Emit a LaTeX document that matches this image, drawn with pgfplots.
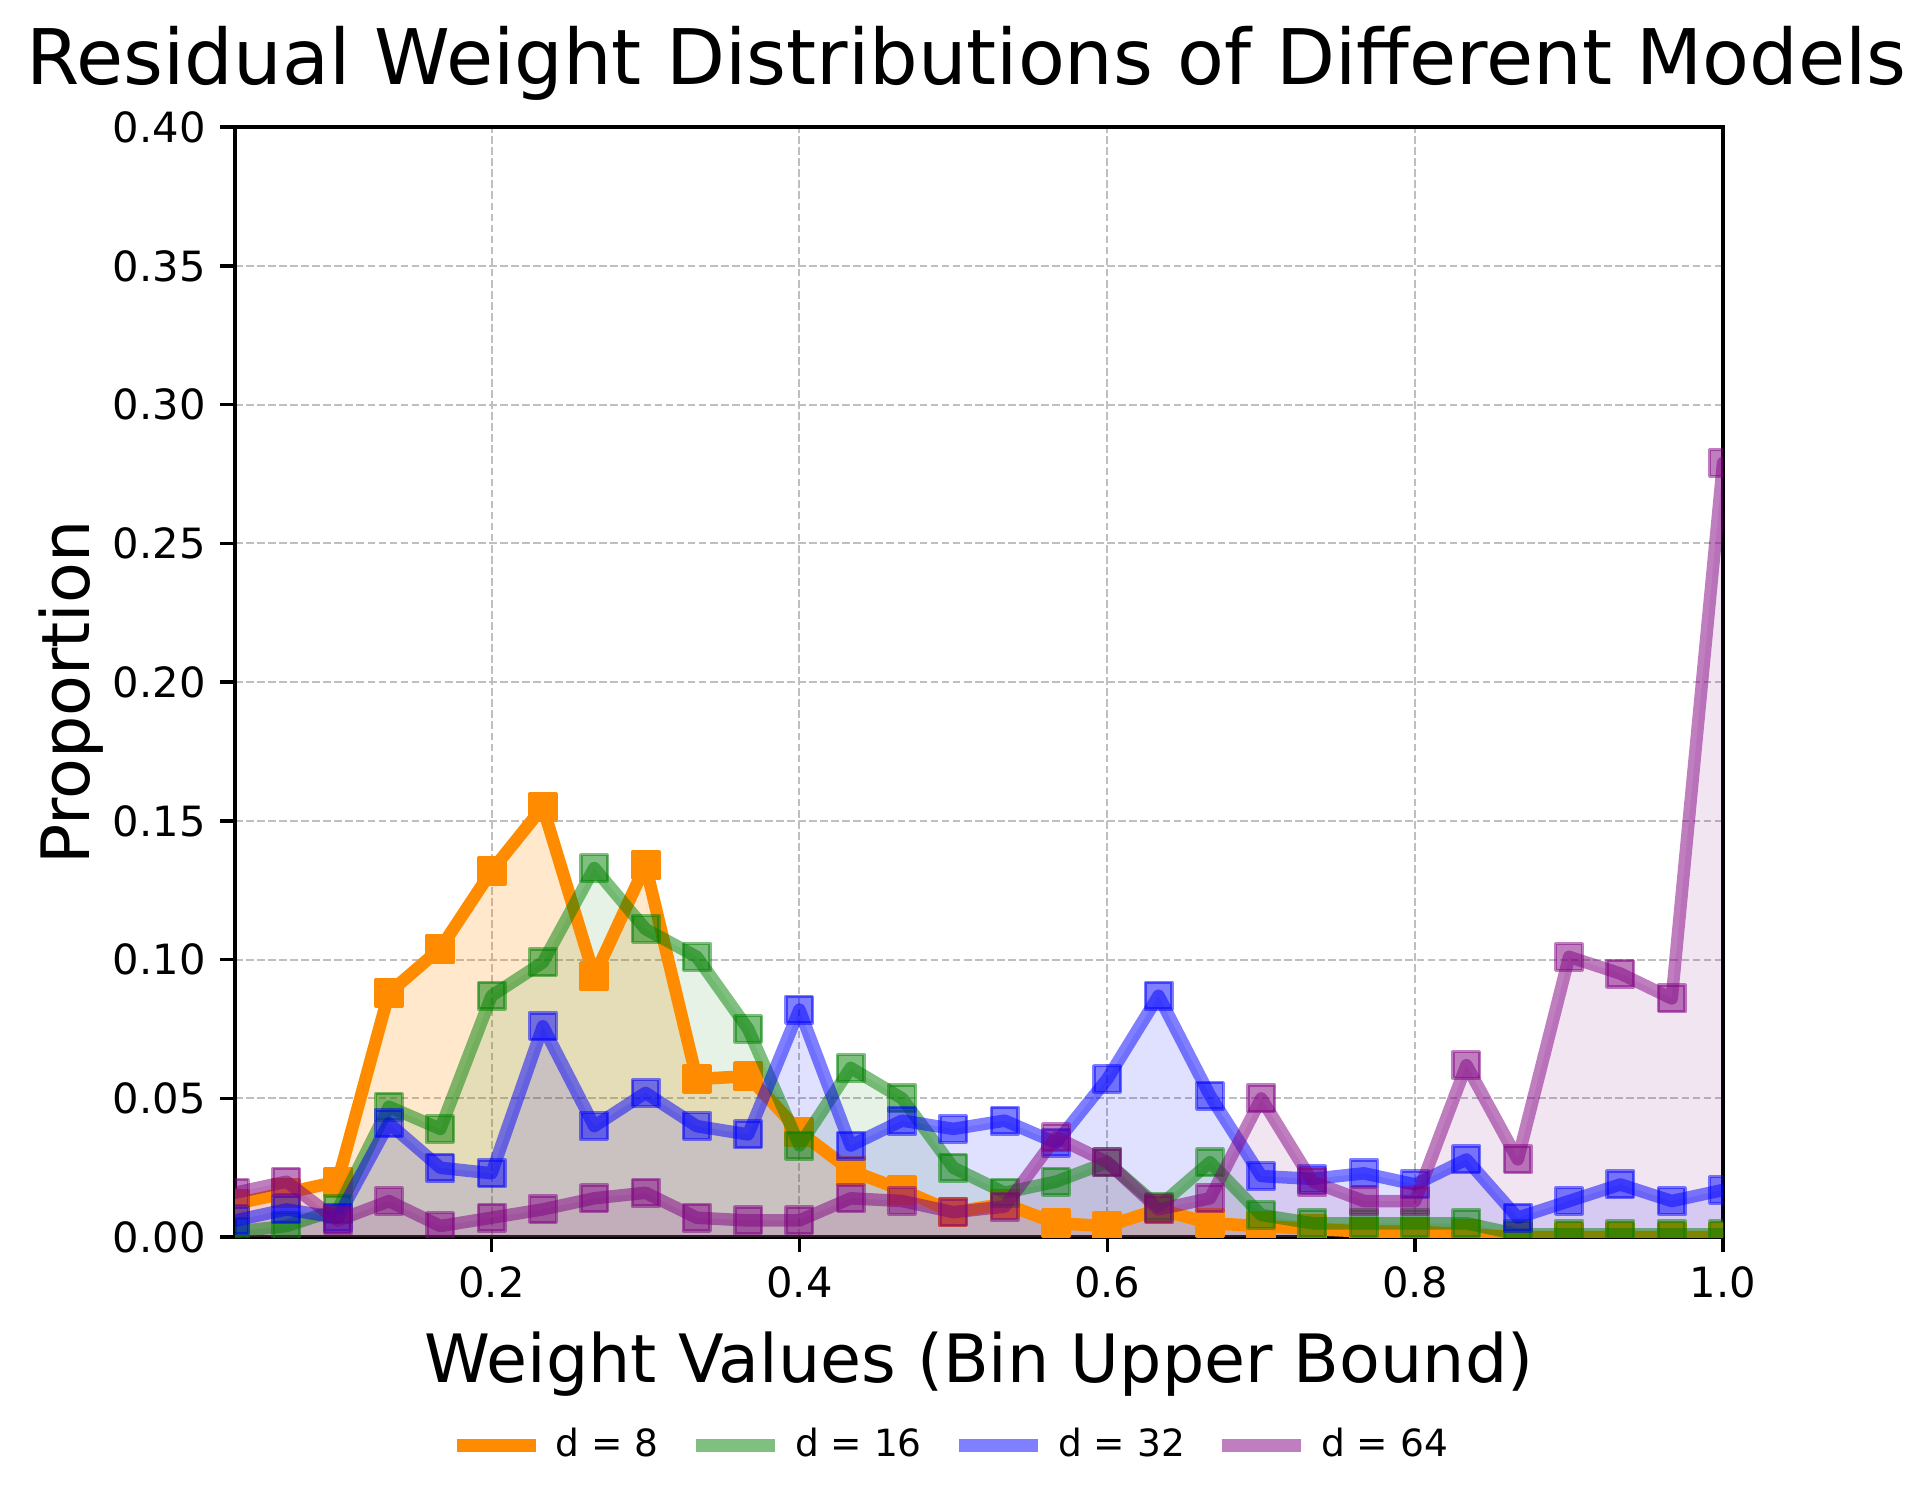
\documentclass[border=0pt]{standalone}
\usepackage{fontspec}
\setmainfont{DejaVu Sans}
\usepackage{pgfplots}
\usepackage{pgfplotstable}
\pgfplotsset{compat=1.18}

\definecolor{corange}{RGB}{255,140,0}
\definecolor{cgreen}{RGB}{0,128,0}
\definecolor{cblue}{RGB}{0,0,255}
\definecolor{cpurple}{RGB}{128,0,128}

% bin upper bound, proportion for d = 8, 16, 32, 64
\pgfplotstableread{
x      d8    d16   d32   d64
0.0333 0.012 0.002 0.006 0.016
0.0667 0.016 0.004 0.010 0.020
0.1000 0.020 0.010 0.007 0.006
0.1333 0.088 0.047 0.041 0.013
0.1667 0.104 0.039 0.025 0.004
0.2000 0.132 0.087 0.023 0.007
0.2333 0.155 0.099 0.076 0.010
0.2667 0.094 0.133 0.040 0.014
0.3000 0.134 0.111 0.052 0.016
0.3333 0.057 0.101 0.040 0.007
0.3667 0.058 0.075 0.037 0.006
0.4000 0.038 0.033 0.082 0.006
0.4333 0.024 0.061 0.033 0.014
0.4667 0.017 0.050 0.042 0.013
0.5000 0.009 0.025 0.039 0.009
0.5333 0.012 0.016 0.042 0.011
0.5667 0.005 0.020 0.034 0.036
0.6000 0.004 0.027 0.057 0.027
0.6333 0.010 0.011 0.087 0.010
0.6667 0.005 0.027 0.051 0.014
0.7000 0.004 0.008 0.022 0.050
0.7333 0.003 0.005 0.021 0.020
0.7667 0.002 0.005 0.023 0.013
0.8000 0.002 0.005 0.019 0.013
0.8333 0.001 0.005 0.028 0.062
0.8667 0.000 0.001 0.007 0.028
0.9000 0.000 0.001 0.013 0.101
0.9333 0.000 0.001 0.019 0.095
0.9667 0.000 0.001 0.013 0.086
1.0000 0.000 0.001 0.017 0.279
}\datatable

\begin{document}
\begin{tikzpicture}
\useasboundingbox (-56.4pt,-64.8pt) rectangle (406.3pt,296.9pt);
\begin{axis}[
  at={(0,0)}, anchor=south west,
  scale only axis,
  width=357.1pt, height=266.4pt,
  xmin=0.0333, xmax=1.0,
  ymin=0, ymax=0.4,
  xtick={0.2,0.4,0.6,0.8,1.0},
  ytick={0,0.05,...,0.4},
  xticklabel style={/pgf/number format/.cd, fixed, fixed zerofill, precision=1},
  yticklabel style={/pgf/number format/.cd, fixed, fixed zerofill, precision=2},
  /pgf/number format/assume math mode=true,
  tick label style={font=\fontsize{10}{12}\selectfont},
  tick align=outside,
  xtick pos=bottom, ytick pos=left,
  major tick length=3.5pt,
  every tick/.style={black, line width=0.8pt},
  axis line style={line width=0.9pt},
  grid=major,
  major grid style={black!25, line width=0.5pt, dash pattern=on 1.85pt off 0.8pt},
  clip marker paths=true,
  title={Residual Weight Distributions of Different Models},
  every axis title/.style={at={([xshift=-3pt, yshift=10.3pt]axis description cs:0.5,1)}, anchor=base, font=\fontsize{18.4}{22}\selectfont},
  xlabel={Weight Values (Bin Upper Bound)},
  every axis x label/.style={at={([yshift=-34.8pt]axis description cs:0.5,0)}, anchor=base, font=\fontsize{16}{19}\selectfont},
  ylabel={Proportion},
  every axis y label/.style={at={([xshift=-35pt, yshift=-2.5pt]axis description cs:0,0.5)}, anchor=base, rotate=90, font=\fontsize{16}{19}\selectfont},
  legend columns=4,
  legend style={at={([xshift=-5.5pt, yshift=-50pt]axis description cs:0.5,0)}, anchor=center, draw=none, fill=none,
    font=\fontsize{9}{11}\selectfont,
    nodes={inner xsep=3.35pt},
    /tikz/every even column/.append style={column sep=4pt}},
  every axis plot/.append style={line cap=round, line join=round},
]
% legend handles
\addlegendimage{legend image code/.code={\draw[line width=3pt, line cap=butt, corange] (0pt,0pt) -- (19pt,0pt);}}
\addlegendentry{d = 8}
\addlegendimage{legend image code/.code={\draw[line width=3pt, line cap=butt, cgreen, opacity=0.5] (0pt,0pt) -- (19pt,0pt);}}
\addlegendentry{d = 16}
\addlegendimage{legend image code/.code={\draw[line width=3pt, line cap=butt, cblue, opacity=0.5] (0pt,0pt) -- (19pt,0pt);}}
\addlegendentry{d = 32}
\addlegendimage{legend image code/.code={\draw[line width=3pt, line cap=butt, cpurple, opacity=0.5] (0pt,0pt) -- (19pt,0pt);}}
\addlegendentry{d = 64}

% shaded areas first
\addplot[draw=none, fill=corange, fill opacity=0.2, forget plot] table[x=x, y=d8] {\datatable} \closedcycle;
\addplot[draw=none, fill=cgreen, fill opacity=0.1, forget plot] table[x=x, y=d16] {\datatable} \closedcycle;
\addplot[draw=none, fill=cblue, fill opacity=0.12, forget plot] table[x=x, y=d32] {\datatable} \closedcycle;
\addplot[draw=none, fill=cpurple, fill opacity=0.1, forget plot] table[x=x, y=d64] {\datatable} \closedcycle;

% d = 8
\addplot[corange, line width=3pt, forget plot] table[x=x, y=d8] {\datatable};
\addplot[only marks, mark=square*, mark size=3.2pt, mark options={draw=corange, fill=corange, line width=0.8pt}, forget plot] table[x=x, y=d8] {\datatable};
% d = 16
\addplot[cgreen, opacity=0.5, line width=3pt, forget plot] table[x=x, y=d16] {\datatable};
\addplot[only marks, mark=square*, mark size=3.2pt, mark options={draw=cgreen, fill=cgreen, draw opacity=0.5, fill opacity=0.5, line width=0.8pt}, forget plot] table[x=x, y=d16] {\datatable};
% d = 32
\addplot[cblue, opacity=0.5, line width=3pt, forget plot] table[x=x, y=d32] {\datatable};
\addplot[only marks, mark=square*, mark size=3.2pt, mark options={draw=cblue, fill=cblue, draw opacity=0.5, fill opacity=0.5, line width=0.8pt}, forget plot] table[x=x, y=d32] {\datatable};
% d = 64
\addplot[cpurple, opacity=0.5, line width=3pt, forget plot] table[x=x, y=d64] {\datatable};
\addplot[only marks, mark=square*, mark size=3.2pt, mark options={draw=cpurple, fill=cpurple, draw opacity=0.5, fill opacity=0.5, line width=0.8pt}, forget plot] table[x=x, y=d64] {\datatable};
\end{axis}
\end{tikzpicture}
\end{document}
